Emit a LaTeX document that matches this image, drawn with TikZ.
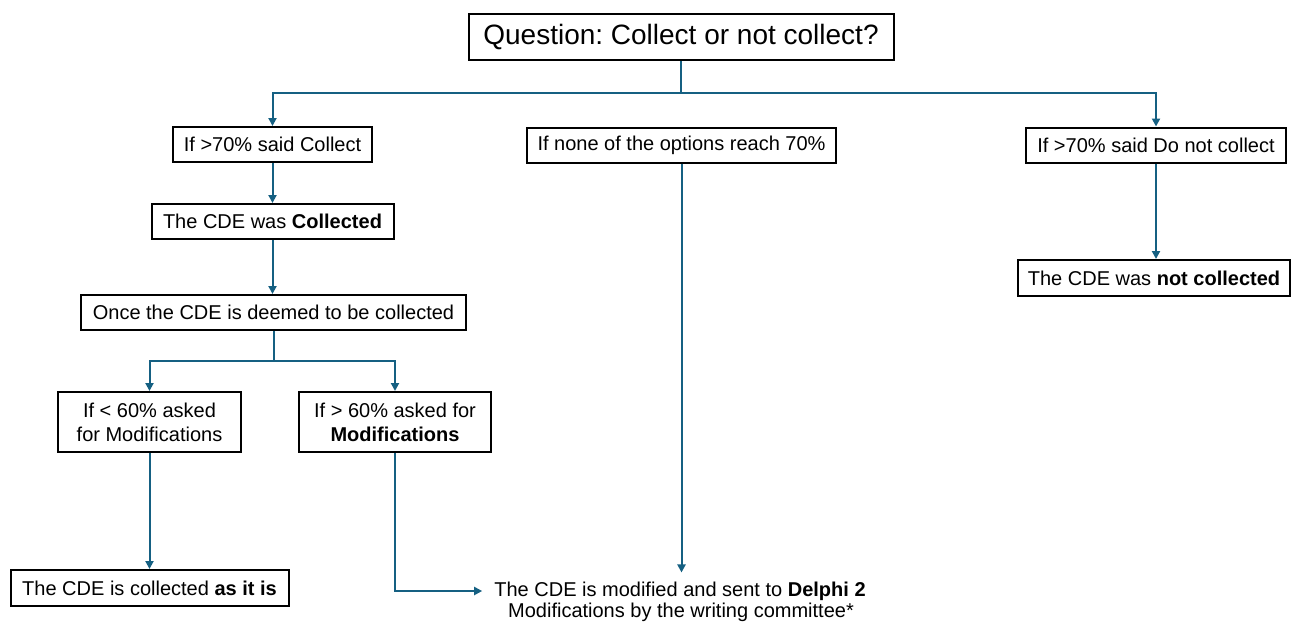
\documentclass[tikz,border=0pt]{standalone}
\usepackage{fontspec}
\setmainfont{Liberation Sans}
\usetikzlibrary{arrows.meta,calc}
\definecolor{linkblue}{HTML}{156082}
\frenchspacing
\begin{document}
\begin{tikzpicture}[x=1pt,y=-1pt,
  box/.style={draw=black,line width=2pt,fill=white,inner sep=0pt,align=center,
    font=\fontsize{20}{24}\selectfont},
  plain/.style={inner sep=0pt,align=center,font=\fontsize{20}{24}\selectfont},
  link/.style={draw=linkblue,line width=2pt},
  arr/.style={link,-{Triangle[length=8pt,width=8pt]}}]
\path[use as bounding box,fill=white] (0,0) rectangle (1292,624);

\node[box,font=\fontsize{28}{32}\selectfont,minimum width=425,minimum height=46] (q) at (681,37) {Question: Collect or not collect?};
\node[box,minimum width=199,minimum height=35] (c1) at (272.5,144.5) {If >70\% said Collect};
\node[box,minimum width=309,minimum height=35] (c2) at (681.5,145) {If none of the options reach 70\%};
\node[box,minimum width=260,minimum height=35] (c3) at (1156,145) {If >70\% said Do not collect};
\node[box,minimum width=242,minimum height=35] (col) at (272.5,221.5) {The CDE was \textbf{Collected}};
\node[box,minimum width=272,minimum height=36] (ncol) at (1154,278) {The CDE was \textbf{not collected}};
\node[box,minimum width=385,minimum height=35] (once) at (273.5,312.5) {Once the CDE is deemed to be collected};
\node[box,minimum width=183,minimum height=60] (lo) at (149.5,422) {If < 60\% asked\\for Modifications};
\node[box,minimum width=192,minimum height=60] (hi) at (395,422) {If > 60\% asked for\\\textbf{Modifications}};
\node[box,minimum width=278,minimum height=36] (asis) at (149.5,588) {The CDE is collected \textbf{as it is}};
\node[plain,inner xsep=12pt,inner ysep=9pt] (mod1) at (680,591) {The CDE is modified and sent to \textbf{Delphi 2}};
\node[plain] (mod2) at (681,612) {Modifications by the writing committee*};

\coordinate (split) at (681,93);
\draw[link] (q.south) -- (split);
\draw[arr] (split) -| (c1.north);
\draw[arr] (split) -| (c3.north);
\draw[arr] (c1.south) -- (col.north);
\draw[arr] (col.south) -- (col.south |- once.north);
\draw[arr] (c3.south) -- (c3.south |- ncol.north);
\coordinate (split2) at (273.5,361);
\draw[link] (once.south) -- (split2);
\draw[arr] (split2) -| (lo.north);
\draw[arr] (split2) -| (hi.north);
\draw[arr] (lo.south) -- (asis.north);
\draw[arr] (hi.south) |- (mod1.west);
\draw[arr] (c2.south) -- (c2.south |- mod1.north);
\end{tikzpicture}
\end{document}
